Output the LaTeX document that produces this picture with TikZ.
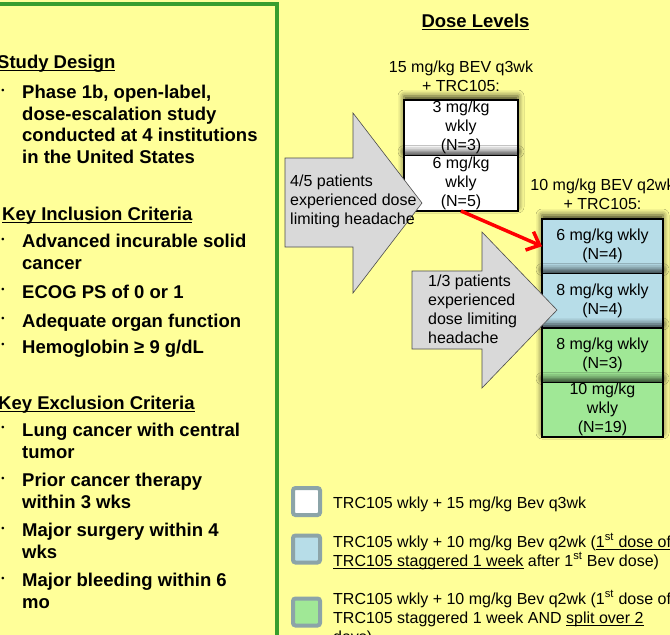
\documentclass[tikz,border=0pt]{standalone}
\usepackage{fontspec}
\setmainfont{Liberation Sans}
\usetikzlibrary{positioning,arrows.meta,shadows.blur}
\definecolor{posteryellow}{RGB}{255,255,153}
\definecolor{panelgreen}{RGB}{56,158,46}
\definecolor{doseblue}{RGB}{183,221,232}
\definecolor{dosegreen}{RGB}{160,232,150}
\definecolor{keygray}{RGB}{140,164,168}
\definecolor{arrowgray}{RGB}{217,217,217}
\newcommand{\uln}[1]{\setbox0\hbox{#1}\rlap{\rule[-3.4pt]{\wd0}{1.2pt}}\box0\relax}
\newcommand{\sst}{\textsuperscript{st}}
\tikzset{
  txt/.style={inner sep=0pt, font=\fontsize{16}{19}\selectfont},
  head/.style={inner sep=0pt, font=\fontsize{18.5}{21.5}\selectfont\bfseries, anchor=base west},
  item/.style={head, align=left},
  dot/.style={inner sep=0pt, font=\fontsize{9}{9}\selectfont\bfseries},
  note/.style={txt, align=left, anchor=base west},
  dosebox/.style={txt, draw, line width=1.6pt, outer sep=0pt, align=center,
    minimum width=114pt, minimum height=55.5pt,
    blur shadow={shadow xshift=0pt, shadow yshift=4pt, shadow blur radius=6pt, shadow opacity=75}},
  keybox/.style={draw=keygray, line width=4pt, rounded corners=2.5pt, minimum size=27pt, inner sep=0pt},
  bigarrow/.style={draw=black!70, fill=arrowgray, line width=0.6pt},
  redarrow/.style={red, line width=3.5pt, -{Straight Barb[length=11pt, width=20pt]}}
}
\begin{document}
\begin{tikzpicture}[x=1pt, y=-1pt]
\useasboundingbox (0,0) rectangle (670,635);
\clip (0,0) rectangle (670,635);
\fill[posteryellow] (0,0) rectangle (670,635);
\draw[panelgreen, line width=4pt] (-10,4) -- (277,4) -- (277,650);

% left panel (multi-line nodes sit on their last baseline)
\node[head] (design) at (-3,68) {\uln{Study Design}};
\node[item] (d1) at (22,163) {Phase 1b, open-label,\\dose-escalation study\\conducted at 4 institutions\\in the United States};
\node[head] (incl) at (2,220) {\uln{Key Inclusion Criteria}};
\node[item] (i1) at (22,269) {Advanced incurable solid\\cancer};
\node[item] (i2) at (22,298) {ECOG PS of 0 or 1};
\node[item] (i3) at (22,327) {Adequate organ function};
\node[item] (i4) at (22,353) {Hemoglobin ≥ 9 g/dL};
\node[head] (excl) at (-2,409) {\uln{Key Exclusion Criteria}};
\node[item] (e1) at (22,458) {Lung cancer with central\\tumor};
\node[item] (e2) at (22,508) {Prior cancer therapy\\within 3 wks};
\node[item] (e3) at (22,558) {Major surgery within 4\\wks};
\node[item] (e4) at (22,608) {Major bleeding within 6\\mo};
\foreach \y in {99,248,298,327,353,436,487,537,587}
  \node[dot] (dot-\y) at (3,\y-8) {\textbullet};

% dose levels
\node[head, anchor=base] (levels) at (475.5,27) {\uln{Dose Levels}};

\node[dosebox, fill=white] (w1) at (461,127.75) {3 mg/kg\\wkly\\(N=3)};
\node[dosebox, fill=white, below=0pt of w1] (w2) {6 mg/kg\\wkly\\(N=5)};
\node[txt, align=center, above=8pt of w1] (lvl1) {15 mg/kg BEV q3wk\\+ TRC105:};

\node[dosebox, fill=doseblue, minimum width=121pt, minimum height=54.5pt] (b1) at (602.5,246.25) {6 mg/kg wkly\\(N=4)};
\node[dosebox, fill=doseblue, minimum width=121pt, minimum height=54.5pt, below=0pt of b1] (b2) {8 mg/kg wkly\\(N=4)};
\node[dosebox, fill=dosegreen, minimum width=121pt, minimum height=54.5pt, below=0pt of b2] (b3) {8 mg/kg wkly\\(N=3)};
\node[dosebox, fill=dosegreen, minimum width=121pt, minimum height=54.5pt, below=0pt of b3] (b4) {10 mg/kg\\wkly\\(N=19)};
\node[txt, align=center, above=9pt of b1] (lvl2) {10 mg/kg BEV q2wk\\+ TRC105:};

% headache arrows
\draw[bigarrow] (285,158) -- (353,158) -- (353,113) -- (422,203) -- (353,293) -- (353,247) -- (285,247) -- cycle;
\node[note] (dlt1) at (290,224) {4/5 patients\\experienced dose\\limiting headache};
\draw[bigarrow] (412,271) -- (482,271) -- (482,232) -- (557,310) -- (482,388) -- (482,349) -- (412,349) -- cycle;
\node[note] (dlt2) at (428,343) {1/3 patients\\experienced\\dose limiting\\headache};

\draw[redarrow] (w2.south) -- (b1.west);

% legend
\node[keybox, fill=white] (k1) at (306.5,501.5) {};
\node[keybox, fill=doseblue] (k2) at (306.5,549) {};
\node[keybox, fill=dosegreen] (k3) at (306.5,612) {};
\node[note] (t1) at (333,508) {TRC105 wkly + 15 mg/kg Bev q3wk};
\node[note] (t2) at (333,566) {TRC105 wkly + 10 mg/kg Bev q2wk (\uln{1\sst{} dose of}\\\uln{TRC105 staggered 1 week} after 1\sst{} Bev dose)};
\node[note] (t3) at (333,642) {TRC105 wkly + 10 mg/kg Bev q2wk (1\sst{} dose of\\TRC105 staggered 1 week AND \uln{split over 2}\\days)};
\end{tikzpicture}
\end{document}
